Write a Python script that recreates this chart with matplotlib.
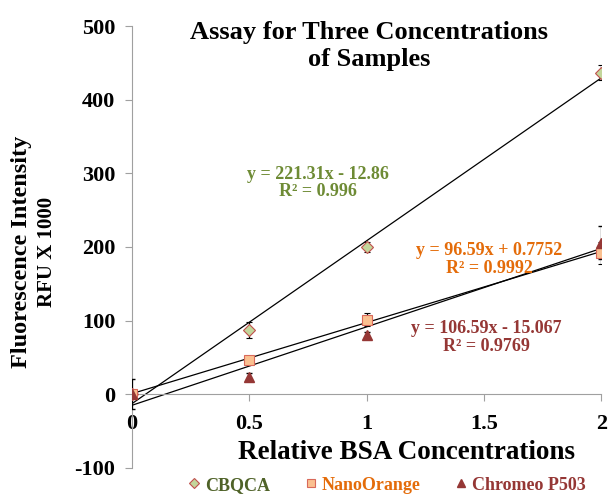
import numpy as np
import matplotlib
matplotlib.use("Agg")
from matplotlib import pyplot as plt
from matplotlib.lines import Line2D

plt.rcParams['font.family'] = ['Liberation Serif', 'DejaVu Serif']
plt.rcParams['font.weight'] = 'bold'
plt.rcParams['axes.unicode_minus'] = False

conc = [0, 0.5, 1, 2]
cbqca = [0, 87, 200, 437]
cbqca_err = [2, 11, 7, 10]
nano = [0, 47, 101, 192]
nano_err = [2, 4, 9, 15]
chromeo = [0, 24, 81, 206]
chromeo_err = [20, 5, 4, 22]

# trendline coefficients (slope, intercept) as printed on the chart
fit_cbqca = (221.31, -12.86)
fit_nano = (96.59, 0.7752)
fit_chromeo = (106.59, -15.067)

green = '#6E8B35'
orange = '#E46C0A'
darkred = '#953735'

fig = plt.figure(figsize=(6.08, 4.94), dpi=100)
ax = fig.add_axes([0.217, 0.053, 0.772, 0.894])

xs = np.array([0, 2])
for m, b in [fit_cbqca, fit_nano, fit_chromeo]:
    ax.plot(xs, m * xs + b, color='black', lw=0.9, zorder=2)

ax.errorbar(conc, cbqca, yerr=cbqca_err, fmt='D', ms=6, mfc='#C3D69B', mec='#C0504D',
            mew=0.8, ecolor='black', elinewidth=0.9, capsize=2.5, zorder=3)
ax.errorbar(conc, nano, yerr=nano_err, fmt='s', ms=7, mfc='#FAC090', mec='#D9695A',
            mew=0.8, ecolor='black', elinewidth=0.9, capsize=2.5, zorder=3)
ax.errorbar(conc, chromeo, yerr=chromeo_err, fmt='^', ms=7, mfc=darkred, mec=darkred,
            ecolor='black', elinewidth=0.9, capsize=2.5, zorder=3)

ax.set_xlim(0, 2.0)
ax.set_ylim(-100, 500)
ax.set_xticks([0, 0.5, 1, 1.5, 2])
ax.set_xticklabels(['0', '0.5', '1', '1.5', '2'])
ax.set_yticks(range(-100, 501, 100))
for s in ['top', 'right']:
    ax.spines[s].set_visible(False)
ax.spines['bottom'].set_position(('data', 0))
ax.spines['bottom'].set_color('#A0A0A0')
ax.spines['left'].set_color('#A0A0A0')
ax.tick_params(axis='both', colors='#A0A0A0', labelcolor='black', labelsize=16, length=5)
ax.tick_params(axis='x', pad=9)
ax.tick_params(axis='y', pad=7)
for lab in ax.get_xticklabels() + ax.get_yticklabels():
    lab.set_fontweight('bold')

ax.text(1.01, 473, 'Assay for Three Concentrations\nof Samples', ha='center', va='center',
        fontsize=19, fontweight='bold', linespacing=1.25)
ax.text(0.793, 287, 'y = 221.31x - 12.86\nR² = 0.996', ha='center', va='center',
        color=green, fontsize=13, fontweight='bold', linespacing=1.05)
ax.text(1.522, 183, 'y = 96.59x + 0.7752\nR² = 0.9992', ha='center', va='center',
        color=orange, fontsize=13, fontweight='bold', linespacing=1.05)
ax.text(1.509, 77, 'y = 106.59x - 15.067\nR² = 0.9769', ha='center', va='center',
        color=darkred, fontsize=13, fontweight='bold', linespacing=1.05)

fig.text(0.669, 0.083, 'Relative BSA Concentrations', ha='center', va='center',
         fontsize=19.5, fontweight='bold')
fig.text(0.036, 0.49, 'Fluorescence Intensity', rotation=90, ha='center', va='center',
         fontsize=17.5, fontweight='bold')
fig.text(0.077, 0.49, 'RFU X 1000', rotation=90, ha='center', va='center',
         fontsize=15, fontweight='bold')

handles = [
    Line2D([], [], ls='none', marker='D', ms=5, mfc='#C3D69B', mec='#C0504D', mew=0.8),
    Line2D([], [], ls='none', marker='s', ms=6, mfc='#FAC090', mec='#D9695A', mew=0.8),
    Line2D([], [], ls='none', marker='^', ms=6, mfc=darkred, mec=darkred),
]
names = ['CBQCA', 'NanoOrange', 'Chromeo P503']
leg = fig.legend(handles, names, loc='center', bbox_to_anchor=(0.638, 0.018), ncol=3,
                 frameon=False, fontsize=13, handlelength=0.5, handletextpad=0.35,
                 columnspacing=2.0, borderpad=0)
for txt, c in zip(leg.get_texts(), ['#4F6228', orange, darkred]):
    txt.set_color(c)
    txt.set_fontweight('bold')

fig.savefig('out.png', dpi=100)
